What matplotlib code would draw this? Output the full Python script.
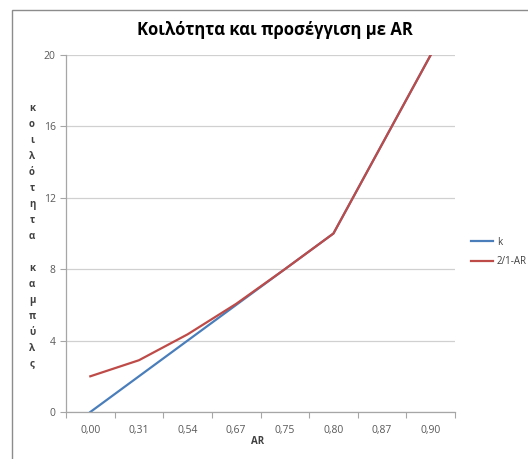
import matplotlib.pyplot as plt
import matplotlib.patches as mpatches
from matplotlib.ticker import FixedLocator, NullFormatter

# data
ar_labels = ['0,00', '0,31', '0,54', '0,67', '0,75', '0,80', '0,87', '0,90']
k_values = [0, 2, 4, 6, 8, 10, 15, 20]
approx_values = [2.0, 2.9, 4.35, 6.06, 8.0, 10.0, 15.0, 20.0]

title = 'Κοιλότητα και προσέγγιση με AR'
ylabel = 'κοιλότητα καμπύλς'

plt.rcParams['font.family'] = ['Open Sans', 'DejaVu Sans']

fig = plt.figure(figsize=(5.28, 4.59), dpi=100)
W, H = 528.0, 459.0

# outer chart frame
frame = mpatches.Rectangle((12 / W, -0.1), 1.2, 1 - 10 / H + 0.1, transform=fig.transFigure,
                           fill=False, edgecolor='#8c8c8c', linewidth=1.0)
fig.patches.append(frame)

ax = fig.add_axes([66 / W, 1 - 412 / H, (455 - 66) / W, (412 - 55) / H])

x = list(range(len(ar_labels)))
ax.plot(x, k_values, color='#4a7ebb', linewidth=1.6, label='k')
ax.plot(x, approx_values, color='#be4b48', linewidth=1.6, label='2/1-AR')

ax.set_xlim(-0.5, len(ar_labels) - 0.5)
ax.set_ylim(0, 20)
ax.set_yticks([0, 4, 8, 12, 16, 20])
ax.set_xticks(x)
ax.set_xticklabels(ar_labels)
ax.tick_params(axis='x', length=0, labelsize=7.5, colors='#595959', pad=9)
ax.tick_params(axis='y', length=4, labelsize=7.5, colors='#595959', width=0.8, color='#a6a6a6')
ax.xaxis.set_minor_locator(FixedLocator([i + 0.5 for i in range(-1, len(ar_labels))]))
ax.xaxis.set_minor_formatter(NullFormatter())
ax.tick_params(axis='x', which='minor', length=4, color='#a6a6a6', width=0.8)

ax.grid(axis='y', color='#d0d0d0', linewidth=0.9)
ax.set_axisbelow(True)
for s in ['top', 'right']:
    ax.spines[s].set_visible(False)
for s in ['left', 'bottom']:
    ax.spines[s].set_color('#a6a6a6')
    ax.spines[s].set_linewidth(0.9)

fig.text(275 / W, 1 - 30 / H, title, ha='center', va='center',
         fontsize=12, fontweight='bold', color='black')
fig.text(258 / W, 1 - 442 / H, 'AR', ha='center', va='center',
         fontsize=7, fontweight='bold', color='#404040')
fig.text(32 / W, 1 - 236.5 / H, '\n'.join(list(ylabel)), ha='center', va='center',
         fontsize=7, fontweight='bold', color='#404040', linespacing=1.62)

leg = ax.legend(loc='center left', bbox_to_anchor=(462 / W, 1 - 252 / H),
                bbox_transform=fig.transFigure, frameon=False, fontsize=7,
                handlelength=2.3, handletextpad=0.4, labelspacing=0.9)
for t in leg.get_texts():
    t.set_color('#404040')

fig.savefig('out.png', dpi=100)
